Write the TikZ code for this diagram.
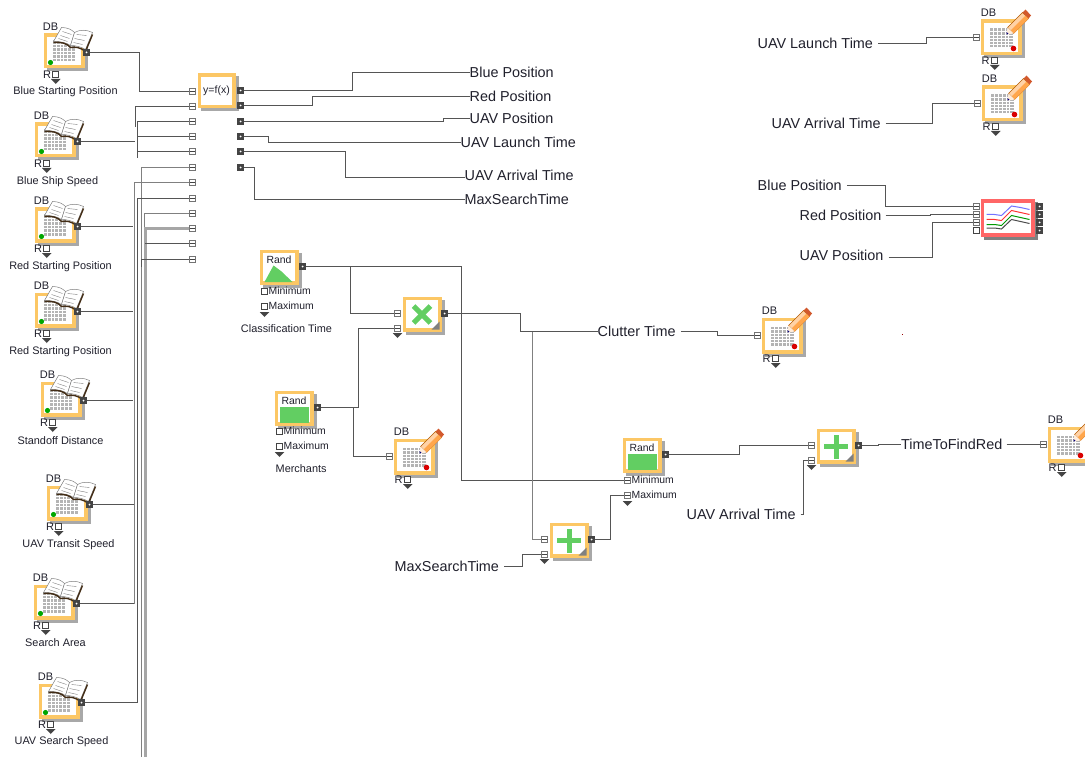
\documentclass[tikz,border=0pt]{standalone}
\usepackage{fontspec}
\setmainfont{Liberation Sans}
\definecolor{boxy}{HTML}{FCC765}
\definecolor{shad}{HTML}{A8A8A8}
\definecolor{wirec}{HTML}{555555}
\definecolor{txt}{HTML}{20202C}
\definecolor{gridc}{HTML}{B4B4B4}
\definecolor{greenf}{HTML}{62CE62}
\definecolor{portd}{HTML}{444444}
\tikzset{
  wire/.style={draw=wirec,line width=1.1pt},
  wireb/.style={draw=gray,line width=1.3pt},
  wirec/.style={draw=gray!70,line width=3pt},
  inport/.style={draw=gray!90!black,fill=white,line width=1pt,minimum size=6.5pt,inner sep=0pt,shape=rectangle,path picture={\draw[portd,line width=0.6pt] (path picture bounding box.west) -- (path picture bounding box.east);}},
  openport/.style={draw=portd,fill=white,line width=0.8pt,minimum size=6.5pt,inner sep=0pt,shape=rectangle},
  outport/.style={fill=portd,minimum size=7pt,inner sep=0pt,shape=rectangle,path picture={\fill[white] (path picture bounding box.center) circle (1pt);}},
  ybox/.style={draw=boxy,line width=3.2pt,fill=white,inner sep=0pt,anchor=north west,shape=rectangle},
  biglab/.style={font=\fontsize{14.4}{16}\selectfont,text=txt,inner sep=0pt,anchor=west},
  smalllab/.style={font=\fontsize{10.9}{12}\selectfont,text=txt,inner sep=0pt},
  dblab/.style={font=\fontsize{11}{12}\selectfont,text=txt,inner sep=0pt},
}
% shadowed yellow box: name, w, h
\newcommand{\bx}[3]{%
  \fill[shad] (3,3) rectangle (#2+3,#3+3);
  \node[ybox,minimum width=#2pt-3.2pt,minimum height=#3pt-3.2pt] (#1) at (0,0) {};
}
% grid: x, y, w, h
\newcommand{\gridicon}[4]{%
  \fill[gridc] (#1,#2) rectangle ++(#3,#4);
  \foreach \i in {1,...,5}{\draw[white,line width=0.55pt] (#1+\i*#3/6,#2) -- ++(0,#4);\draw[white,line width=0.55pt] (#1,#2+\i*#4/6) -- ++(#3,0);}
}
\newcommand{\bookicon}{%
  \fill[white,draw=gray,line width=0.5pt] (10,8) -- (18,-6) .. controls (24,-6) and (28,-4) .. (31,-1) -- (27,12) .. controls (23,9) and (17,8) .. (10,8) -- cycle;
  \fill[white,draw=gray,line width=0.5pt] (27,12) -- (31,-1) .. controls (36,-4) and (43,-4) .. (49,-1) -- (42,16) .. controls (37,13) and (32,12) .. (27,12) -- cycle;
  \draw[gray,line width=0.4pt] (19,-2)--(28,1) (17,2)--(26,5) (15,5)--(24,8) (33,1)--(43,2) (31,5)--(41,7) (30,9)--(39,11);
  \draw[black!65!brown,line width=1.4pt] (10,9) .. controls (17,8) and (24,10) .. (27,14) .. controls (32,13) and (37,14) .. (42,18) -- (49,1);
}
\newcommand{\pencilicon}{%
  \fill[orange!35!white,draw=orange!70!black,line width=0.4pt] (27,8) -- (42,-7) -- (48,-1) -- (33,14) -- cycle;
  \fill[orange!70] (30,11) -- (45,-4) -- (48,-1) -- (33,14) -- cycle;
  \fill[orange!15!white] (27,8) -- (33,14) -- (26,15) -- cycle;
  \fill[blue!50!black] (26.2,12.5) -- (28,14.4) -- (26,15) -- cycle;
  \fill[brown!70!red] (42,-7) -- (45,-10) -- (50.5,-4) -- (48,-1) -- cycle;
}
% source DB block: name, x, y, caption centre x, caption y rel, caption
\newcommand{\srcb}[6]{%
  \begin{scope}[shift={(#2,#3)}]
    \bx{#1box}{41}{35}
    \gridicon{9}{7}{22}{21}
    \fill[green!65!black] (7,29) circle (2.6);
    \bookicon
    \node[dblab] at (7,-6.5) {DB};
    \node[outport] (#1) at (43,19) {};
    \node[dblab] at (3.5,41) {R};
    \node[openport] (#1r) at (12,41) {};
    \fill[portd] (7.5,45.5) -- (17,45.5) -- (12.25,50.5) -- cycle;
    \node[smalllab] (#1cap) at (#4,#5) {#6};
  \end{scope}
}
% writer DB block: name, x, y
\newcommand{\wrb}[3]{%
  \begin{scope}[shift={(#2,#3)}]
    \bx{#1box}{41}{36}
    \gridicon{9}{9}{23}{19}
    \fill[red!85!black] (33,29) circle (2.8);
    \pencilicon
    \node[dblab] at (8,-7) {DB};
    \node[inport] (#1) at (-4,18) {};
    \node[dblab] at (5,41) {R};
    \node[openport] (#1r) at (14,41) {};
    \fill[portd] (9.5,45.5) -- (19,45.5) -- (14.25,50.5) -- cycle;
  \end{scope}
}
% rand block: name,x,y, 1=triangle 0=rectangle
\newcommand{\randb}[4]{%
  \begin{scope}[shift={(#2,#3)}]
    \bx{#1box}{39}{35}
    \ifnum#4=1
      \fill[greenf] (5,32.5) -- (14,16) -- (22,22) -- (33,32.5) -- cycle;
    \else
      \fill[greenf] (5,16) rectangle (34,32.5);
    \fi
    \node[font=\fontsize{10.4}{12}\selectfont,text=txt,inner sep=0pt] at (19.5,10.5) {Rand};
    \node[outport] (#1) at (43,17) {};
  \end{scope}
}
% minimum / maximum ports: name, x, y of minimum, port style
\newcommand{\minmax}[4]{%
  \begin{scope}[shift={(#2,#3)}]
    \node[#4] (#1min) at (0,0) {};
    \node[#4] (#1max) at (0,15) {};
    \node[font=\fontsize{10.4}{11}\selectfont,text=txt,inner sep=0pt,anchor=west] at (4,-0.5) {Minimum};
    \node[font=\fontsize{10.4}{11}\selectfont,text=txt,inner sep=0pt,anchor=west] at (4,14.5) {Maximum};
    \fill[portd] (-4.75,20.5) -- (4.75,20.5) -- (0,25.5) -- cycle;
  \end{scope}
}
% operator block: name, x, y, 0 plus / 1 times
\newcommand{\opb}[4]{%
  \begin{scope}[shift={(#2,#3)}]
    \bx{#1box}{39}{35}
    \ifnum#4=0
      \fill[greenf] (17.5,6) rectangle (22.5,30);
      \fill[greenf] (7.5,15.5) rectangle (31.5,20.5);
    \else
      \begin{scope}[shift={(19.5,18)},rotate=45]
        \fill[greenf] (-2.5,-12) rectangle (2.5,12);
        \fill[greenf] (-12,-2.5) rectangle (12,2.5);
      \end{scope}
    \fi
    \fill[gray] (37,25) -- (37,33) -- (29,33) -- cycle;
    \node[inport] (#1a) at (-5,17) {};
    \node[inport] (#1b) at (-5,32) {};
    \node[outport] (#1) at (42,17) {};
    \fill[portd] (-9.75,36.5) -- (-0.25,36.5) -- (-5,41.5) -- cycle;
  \end{scope}
}
\begin{document}
\begin{tikzpicture}[x=1pt,y=-1pt]
\useasboundingbox (-0.5,-0.5) rectangle (1084.5,756.5);
\fill[white] (-0.5,-0.5) rectangle (1084.5,756.5);

% function block
\begin{scope}[shift={(197,73)}]
  \bx{fbox}{38}{35}
  \node[font=\fontsize{10.5}{12}\selectfont,text=txt,inner sep=0pt] at (19,17.5) {y=f(x)};
\end{scope}
\foreach \n/\y in {1/91,2/106,3/121,4/136,5/151,6/167,7/182,8/198,9/213,10/228,11/243,12/259}
  \node[inport] (fi\n) at (192,\y) {};
\foreach \n/\y in {1/90,2/105,3/121,4/136,5/151,6/167}
  \node[outport] (fo\n) at (240,\y) {};

% source blocks
\srcb{s1}{43}{33}{22}{58}{Blue Starting Position}
\srcb{s2}{34}{122}{23}{59}{Blue Ship Speed}
\srcb{s3}{34}{207}{26}{59}{Red Starting Position}
\srcb{s4}{34}{292}{26}{59}{Red Starting Position}
\srcb{s5}{40}{381}{20}{59}{Standoff Distance}
\srcb{s6}{46}{485}{22}{59}{UAV Transit Speed}
\srcb{s7}{33}{584}{22}{58}{Search Area}
\srcb{s8}{38}{683}{23}{58}{UAV Search Speed}

% writers
\wrb{w1}{980}{19}
\wrb{w2}{981}{85}
\wrb{w3}{761}{317}
\wrb{w4}{393}{438}
\wrb{w5}{1047}{426}

% random and operators
\randb{r1}{259}{249}{1}
\minmax{r1m}{264}{291}{openport}
\node[smalllab] (r1cap) at (286,328) {Classification Time};
\randb{r2}{274}{390}{0}
\minmax{r2m}{279}{431}{openport}
\node[smalllab,anchor=west] (r2cap) at (275,468) {Merchants};
\randb{r3}{622}{437}{0}
\minmax{r3m}{627}{480}{inport}
\opb{x1}{402}{296}{1}
\opb{p1}{549}{522}{0}
\opb{p2}{816}{428}{0}

% chart
\begin{scope}[shift={(980,199)}]
  \fill[gray] (3,3) rectangle (57,40);
  \node[draw=red!60!white,line width=3.4pt,fill=white,inner sep=0pt,minimum width=50.6pt,minimum height=33.6pt,anchor=north west] (chart) at (0,0) {};
  \draw[blue!55!white,line width=1pt] (6,15) -- (14,15) -- (21,16) -- (31,6.5) -- (40,8) -- (49,10);
  \draw[red!80,line width=1pt] (6,20) -- (14,20) -- (21,21) -- (31,11) -- (40,13) -- (49,15);
  \draw[green!60!black,line width=1pt] (6,25) -- (14,25) -- (21,26) -- (31,16) -- (40,18) -- (49,20);
  \draw[black!70,line width=1pt] (6,28.5) -- (14,28.5) -- (21,29.5) -- (31,20) -- (40,22) -- (49,24);
\end{scope}
\foreach \n/\y in {1/206,2/214,3/222,4/230}{
  \node[outport,minimum size=6.4pt] (co\n) at (1039,\y) {};
}
\node[inport,minimum size=6pt] (ci1) at (976,206) {};
\node[inport,minimum size=6pt] (ci2) at (976,214) {};
\node[inport,minimum size=6pt] (ci3) at (976,222) {};
\node[openport,minimum size=6pt] (ci4) at (976,230) {};

% labels
\node[biglab] (lbp) at (469,72) {Blue Position};
\node[biglab] (lrp) at (469,96) {Red Position};
\node[biglab] (lup) at (469,118) {UAV Position};
\node[biglab] (lul) at (460,142) {UAV Launch Time};
\node[biglab] (lua) at (464,175) {UAV Arrival Time};
\node[biglab] (lms) at (464,199) {MaxSearchTime};
\node[biglab] (rul) at (757,43) {UAV Launch Time};
\node[biglab] (rua) at (771,123) {UAV Arrival Time};
\node[biglab] (rbp) at (757,185) {Blue Position};
\node[biglab] (rrp) at (799,215) {Red Position};
\node[biglab] (rup) at (799,255) {UAV Position};
\node[biglab] (ctm) at (597,331) {Clutter Time};
\node[biglab] (tfr) at (900.5,444) {TimeToFindRed};
\node[biglab] (ua2) at (686,514) {UAV Arrival Time};
\node[biglab] (ms2) at (394,566) {MaxSearchTime};
\fill[red!60!black] (901.5,333) rectangle ++(1.2,1);

% wires: sources into the function block
\draw[wire] (s1) -- ++(53,0) |- (fi1);
\draw[wire] (s2) -- (134.5,141);
\draw[wire] (s3) -- (132,226);
\draw[wire] (s4) -- (132,311);
\draw[wire] (s5) -- (132,400);
\draw[wire] (s6) -- (134,504);
\draw[wire] (s7) -- (134,603);
\draw[wire] (s8) -- (137,702);
\draw[wire] (fi2) -| (135,127);
\draw[wire] (fi3) -| (137,158);
\draw[wire] (fi4) -- (137,136);
\draw[wire] (fi5) -- (137,151);
\draw[wireb] (fi6) -| (141,757);
\draw[wireb] (fi7) -| (134,603);
\draw[wire] (fi8) -| (137,702);
\draw[wireb] (fi9) -| (144,280);
\draw[wirec] (fi10) -| (145,757);
\draw[wire] (fi11) -- (144,243);
\draw[wire] (fi12) -| (141,266);

% function outputs
\draw[wire] (fo1) -| (352,72) -- (lbp);
\draw[wire] (fo2) -| (312,96) -- (lrp);
\draw[wire] (fo3) -| (443,118) -- (lup);
\draw[wire] (fo4) -| (268,142) -- (lul);
\draw[wire] (fo5) -| (345,177) -- (464,177);
\draw[wire] (fo6) -| (254,199) -- (lms);

% middle
\draw[wire] (r1) -| (461,480) -- (r3mmin);
\draw[wire] (350,266) |- (x1a);
\draw[wire] (r2) -| (358,328) -- (x1b);
\draw[wire] (353,407) |- (w4);
\draw[wire] (x1) -| (520,331) -- (ctm);
\draw[wireb] (532,331) |- (p1a);
\draw[wire] (ctm.east) ++(5,0) -| (717,335) -- (w3);
\draw[wire] (p1) -| (610,495) -- (r3mmax);
\draw[wire] (r3) -| (739,445) -- (p2a);
\draw[wire] (ua2.east) ++(5,0) -- (803,514) |- (p2b);
\draw[wire] (ms2.east) ++(5,0) -- (522,566) |- (p1b);
\draw[wire] (p2) -| (878,444) -- (tfr);
\draw[wire] (tfr.east) ++(4,0) -- (w5);

% right side
\draw[wire] (rul.east) ++(5,0) -| (926,37) -- (w1);
\draw[wire] (rua.east) ++(5,0) -| (932,103) -- (w2);
\draw[wire] (rbp.east) ++(5,0) -| (885,206) -- (ci1);
\draw[wire] (rrp.east) ++(4,0) -| (930,214) -- (ci2);
\draw[wire] (rup.east) ++(5,2) -| (932,222) -- (ci3);
\end{tikzpicture}
\end{document}
